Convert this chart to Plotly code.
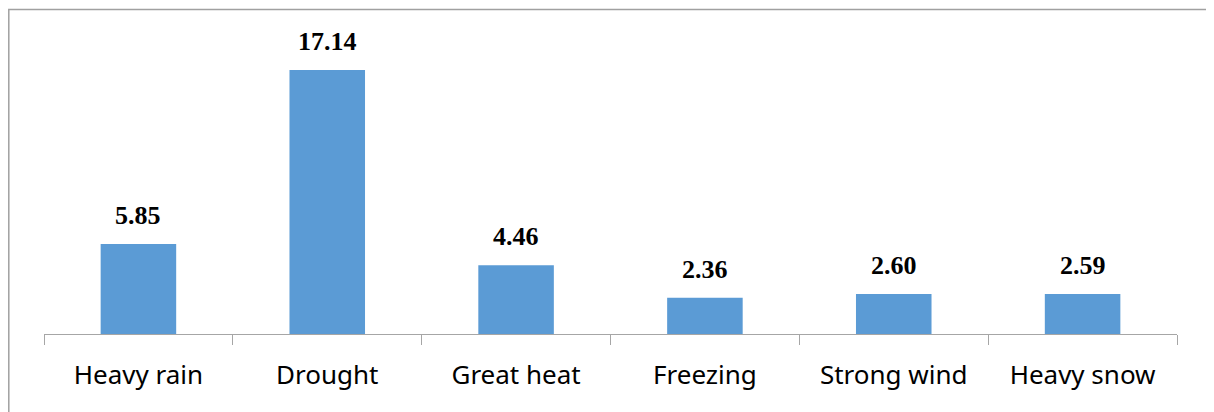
import plotly.graph_objects as go

categories = ["Heavy rain", "Drought", "Great heat", "Freezing", "Strong wind", "Heavy snow"]
values = [5.85, 17.14, 4.46, 2.36, 2.60, 2.59]
value_labels = ["5.85", "17.14", "4.46", "2.36", "2.60", "2.59"]

# page body has an 8px default margin; positions below are in figure coords
W, H = 1214, 412
L, R, T, B = 36, 45, 18, 86
pw, ph = W - L - R, H - T - B

fig = go.Figure()
fig.add_trace(go.Bar(x=categories, y=values, marker_color="#5B9BD5",
                     marker_line_width=0, hoverinfo="skip"))

for c, v, t in zip(categories, values, value_labels):
    fig.add_annotation(x=c, y=v, text="<b>%s</b>" % t, showarrow=False,
                       yanchor="bottom", yshift=12,
                       font=dict(family="Liberation Serif", size=26, color="#000000"))

def px_x(px):
    return (px - L) / pw

def px_y(py):
    return (H - B - py) / ph

fig.add_shape(type="rect", xref="paper", yref="paper",
              x0=px_x(0.8), x1=px_x(1205), y0=px_y(420), y1=px_y(1.5),
              line=dict(color="#A0A0A0", width=1.5), fillcolor="rgba(0,0,0,0)", layer="below")

fig.update_layout(
    width=W, height=H, margin=dict(l=L, r=R, t=T, b=B),
    plot_bgcolor="white", paper_bgcolor="white",
    bargap=0.6, showlegend=False,
    xaxis=dict(type="category", tickson="boundaries", ticks="outside", ticklen=10,
               tickcolor="#A6A6A6", tickwidth=1, showline=True, linecolor="#A6A6A6",
               linewidth=1, showgrid=False, ticklabelstandoff=18,
               tickfont=dict(family="Noto Sans", size=26, color="#000000")),
    yaxis=dict(range=[0, 20], visible=False, showgrid=False, zeroline=False),
)

fig.write_html("out.html")
